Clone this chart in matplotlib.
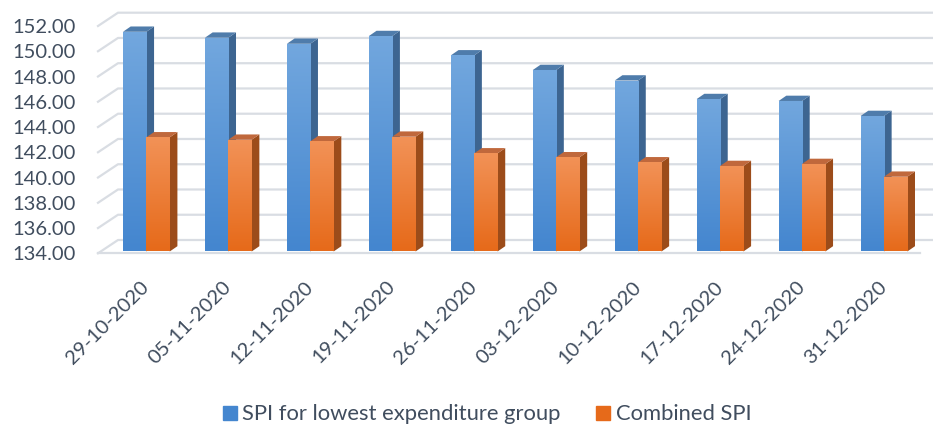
import numpy as np
import matplotlib.pyplot as plt
from matplotlib.patches import Polygon, Patch
from matplotlib.colors import LinearSegmentedColormap

dates = ["29-10-2020", "05-11-2020", "12-11-2020", "19-11-2020", "26-11-2020",
         "03-12-2020", "10-12-2020", "17-12-2020", "24-12-2020", "31-12-2020"]
spi_lowest = [151.40, 150.93, 150.45, 151.06, 149.53, 148.37, 147.54, 146.07, 145.92, 144.73]
spi_combined = [143.04, 142.85, 142.72, 143.09, 141.77, 141.46, 141.06, 140.77, 140.93, 139.92]
series_names = ["SPI for lowest expenditure group", "Combined SPI"]
yticks = np.arange(134, 153, 2)

plt.rcParams['font.family'] = ['Lato', 'DejaVu Sans']
text_color = '#404d5e'

W, H = 933, 426
fig = plt.figure(figsize=(W / 100, H / 100), dpi=100)
ax_left, ax_right, ax_top, ax_bot = 98, 920, 26, 253.3
ax = fig.add_axes([ax_left / W, (H - ax_bot) / H, (ax_right - ax_left) / W, (ax_bot - ax_top) / H])
xmin, xmax = -0.59, 9.44
ymin, ymax = 134, 152

# pixel -> data unit helpers for the fake 3d depth
pxx = (ax_right - ax_left) / (xmax - xmin)
pxy = (ax_bot - ax_top) / (ymax - ymin)
DX, DY = 20 / pxx, 13.3 / pxy          # floor depth
bdx, bdy = 7.7 / pxx, 5.3 / pxy        # bar depth
lift = 1.8 / pxy                       # bars stand a bit behind the front edge

grid_c = '#d9dde3'
for v in yticks:
    ax.plot([xmin, xmin + DX, xmax + DX + 1], [v, v + DY, v + DY],
            color=grid_c, lw=1.6, clip_on=False, zorder=1)
ax.plot([xmin, xmax], [ymin, ymin], color=grid_c, lw=1.6, clip_on=False, zorder=1)

w = 0.285
x = np.arange(len(dates))

styles = [
    dict(top='#72a7de', bot='#4486cf', side='#3d6591', lid='#4f7cab'),
    dict(top='#f29257', bot='#e66a1a', side='#9c4c1a', lid='#c0683c'),
]

z = 3
for i in range(len(dates)):
    for s, (vals, st, off) in enumerate(zip([spi_lowest, spi_combined], styles, [-w / 2, w / 2])):
        xc = x[i] + off
        x0, x1 = xc - w / 2, xc + w / 2
        b0 = ymin + lift
        t = vals[i] + lift
        side = Polygon([(x1, b0), (x1 + bdx, b0 + bdy), (x1 + bdx, t + bdy), (x1, t)],
                       closed=True, fc=st['side'], ec='none', zorder=z, clip_on=False)
        lid = Polygon([(x0, t), (x0 + bdx, t + bdy), (x1 + bdx, t + bdy), (x1, t)],
                      closed=True, fc=st['lid'], ec='none', zorder=z, clip_on=False)
        ax.add_patch(side)
        ax.add_patch(lid)
        bar = ax.bar(xc, t - b0, bottom=b0, width=w, color=st['bot'], zorder=z + 1, clip_on=False)[0]
        cmap = LinearSegmentedColormap.from_list('g', [st['bot'], st['top']])
        im = ax.imshow(np.linspace(0, 1, 64).reshape(-1, 1), extent=[x0, x1, b0, t], origin='lower',
                       cmap=cmap, aspect='auto', zorder=z + 2, interpolation='bilinear')
        im.set_clip_path(bar)
        z += 3

ax.set_xlim(xmin, xmax)
ax.set_ylim(ymin, ymax)
for sp in ax.spines.values():
    sp.set_visible(False)
ax.set_yticks(yticks)
ax.set_yticklabels([f"{v:.2f}" for v in yticks], fontsize=14.5, color=text_color)
ax.tick_params(axis='y', length=0, pad=16)
ax.set_xticks(x)
ax.set_xticklabels(dates, rotation=45, ha='right', va='center', rotation_mode='anchor',
                   fontsize=14.5, color=text_color)
ax.tick_params(axis='x', length=0, pad=22)
ax.patch.set_alpha(0)

handles = [Patch(color=styles[0]['bot']), Patch(color=styles[1]['bot'])]
fig.legend(handles, series_names, loc='center', bbox_to_anchor=(0.522, 0.027), ncol=2,
           frameon=False, fontsize=15.8, labelcolor=text_color, handlelength=0.64,
           handleheight=0.64, handletextpad=0.25, columnspacing=1.6, borderpad=0)

fig.savefig("out.png", dpi=100)
